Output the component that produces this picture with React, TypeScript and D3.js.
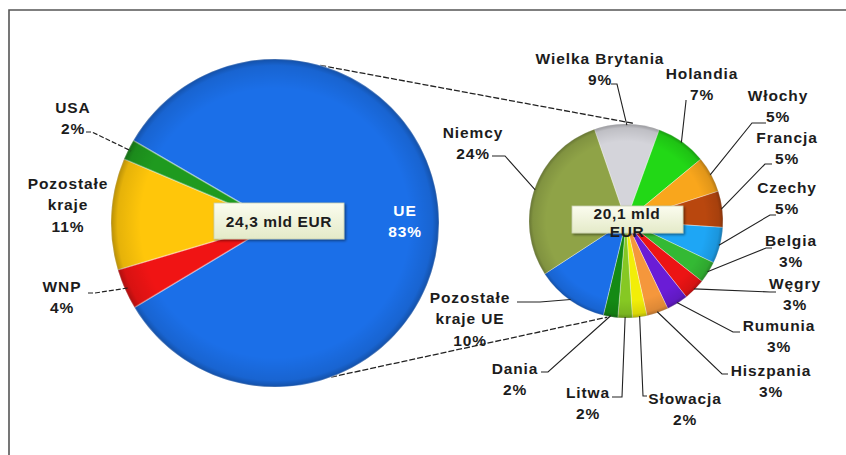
import React from "react";
import * as d3 from "d3";

// ---- data ----
const mainLabels = ["UE", "WNP", "Pozostałe\nkraje", "USA"];
const mainValues = [83, 4, 11, 2];
const mainColors = ["#1b6fe8", "#f01414", "#ffc60a", "#1f9a1f"];
const mainTotal = "24,3 mld EUR";

const subLabels = [
  "Wielka Brytania", "Holandia", "Włochy", "Francja", "Czechy", "Belgia", "Węgry",
  "Rumunia", "Hiszpania", "Słowacja", "Litwa", "Dania", "Pozostałe\nkraje UE", "Niemcy",
];
const subValues = [9, 7, 5, 5, 5, 3, 3, 3, 3, 2, 2, 2, 10, 24];
const subColors = [
  "#d4d4da", "#22d816", "#f9a61c", "#b9470e", "#1ea6f5", "#34b934", "#ec1414",
  "#6a1cd6", "#f5973c", "#f2ee08", "#86c823", "#148a14", "#1b6fe8", "#8fa347",
];
const subTotal = ["20,1 mld", "EUR"];

// ---- layout ----
const W = 846, H = 455;
const MAIN = { cx: 275, cy: 223, r: 164, start: 300.2 };
const SUB = { cx: 626, cy: 221, r: 97, start: -19 };
const FONT = "'Liberation Sans', Arial, sans-serif";
const LH = 21.5;

// label centers (first line) and leader elbows [p0, p1] (null = no leader)
const mainLayout: { x: number; y: number; leader: number[][] | null; fill?: string }[] = [
  { x: 405, y: 210, leader: null, fill: "#ffffff" },
  { x: 62, y: 286, leader: [[88, 293], [95, 293]] },
  { x: 68, y: 183, leader: null },
  { x: 73, y: 107, leader: [[86, 132], [92, 132]] },
];
const subLayout: { x: number; y: number; leader: number[][] }[] = [
  { x: 600, y: 58, leader: [[611, 84], [617, 84]] },
  { x: 702, y: 73, leader: [[686, 100], [686, 101]] },
  { x: 778, y: 95, leader: [[766, 123], [752, 123]] },
  { x: 787, y: 137, leader: [[772, 164], [765, 164]] },
  { x: 787, y: 187, leader: [[776, 215], [770, 215]] },
  { x: 791, y: 240, leader: [[772, 248], [766, 248]] },
  { x: 795, y: 283, leader: [[776, 292], [770, 292]] },
  { x: 779, y: 325, leader: [[740, 332], [733, 332]] },
  { x: 771, y: 370, leader: [[728, 374], [722, 374]] },
  { x: 685, y: 398, leader: [[647, 396], [643, 396]] },
  { x: 588, y: 392, leader: [[612, 397], [622, 397]] },
  { x: 515, y: 368, leader: [[541, 372], [548, 372]] },
  { x: 470, y: 297, leader: [[517, 302], [540, 302]] },
  { x: 473, y: 132, leader: [[492, 156], [505, 156]] },
];
const CONNECT = { mainTop: 16, mainBot: 160, subTop: 4, subBot: 191 };

const rad = (deg: number) => (deg * Math.PI) / 180;
const polar = (cx: number, cy: number, r: number, deg: number) => [
  cx + r * Math.sin(rad(deg)),
  cy - r * Math.cos(rad(deg)),
];

function Label({ x, y, text, pct, fill }: { x: number; y: number; text: string; pct: number; fill?: string }) {
  const lines = [...text.split("\n"), `${pct}%`];
  return (
    <text
      x={x}
      y={y}
      textAnchor="middle"
      fontFamily={FONT}
      fontSize={15.5}
      fontWeight="bold"
      letterSpacing={0.9}
      fill={fill || "#1c1c1c"}
    >
      {lines.map((l, i) => (
        <tspan key={i} x={x} y={y + i * LH} dominantBaseline="central">
          {l}
        </tspan>
      ))}
    </text>
  );
}

export default function App() {
  const mainPie = d3
    .pie<number>()
    .sort(null)
    .startAngle(rad(MAIN.start))
    .endAngle(rad(MAIN.start + 360))(mainValues);
  const subPie = d3
    .pie<number>()
    .sort(null)
    .startAngle(rad(SUB.start))
    .endAngle(rad(SUB.start + 360))(subValues);
  const mainArc = d3.arc<d3.PieArcDatum<number>>().innerRadius(0).outerRadius(MAIN.r);
  const subArc = d3.arc<d3.PieArcDatum<number>>().innerRadius(0).outerRadius(SUB.r);

  const midDeg = (d: d3.PieArcDatum<number>) => ((d.startAngle + d.endAngle) / 2) * (180 / Math.PI);

  const line = d3.line();

  const ct1 = polar(MAIN.cx, MAIN.cy, MAIN.r, CONNECT.mainTop);
  const ct2 = polar(SUB.cx, SUB.cy, SUB.r + 1, CONNECT.subTop);
  const cb1 = polar(MAIN.cx, MAIN.cy, MAIN.r, CONNECT.mainBot);
  const cb2 = polar(SUB.cx, SUB.cy, SUB.r + 1, CONNECT.subBot);

  return (
    <svg
      width={W}
      height={H}
      viewBox={`0 0 ${W} ${H}`}
      style={{ position: "absolute", left: 0, top: 0, background: "#fff" }}
    >
      <defs>
        <radialGradient id="shade" cx="50%" cy="50%" r="50%">
          <stop offset="0%" stopColor="#000" stopOpacity={0} />
          <stop offset="82%" stopColor="#000" stopOpacity={0} />
          <stop offset="96%" stopColor="#000" stopOpacity={0.1} />
          <stop offset="100%" stopColor="#000" stopOpacity={0.28} />
        </radialGradient>
        <linearGradient id="box" x1="0" y1="0" x2="0" y2="1">
          <stop offset="0%" stopColor="#fbfcef" />
          <stop offset="100%" stopColor="#e4eac8" />
        </linearGradient>
        <filter id="shadow" x="-10%" y="-20%" width="130%" height="160%">
          <feDropShadow dx="1.5" dy="1.5" stdDeviation="1.2" floodColor="#000" floodOpacity="0.45" />
        </filter>
      </defs>

      {/* frame */}
      <path d={`M9,${H} L9,10 L${W},10`} fill="none" stroke="#555" strokeWidth={1.6} />

      {/* connectors */}
      <path d={line([ct1 as [number, number], ct2 as [number, number]]) || ""} stroke="#222" strokeWidth={1.3} strokeDasharray="6,2" fill="none" />
      <path d={line([cb1 as [number, number], cb2 as [number, number]]) || ""} stroke="#222" strokeWidth={1.3} strokeDasharray="6,2" fill="none" />

      {/* main pie */}
      <g transform={`translate(${MAIN.cx},${MAIN.cy})`}>
        {mainPie.map((d, i) => (
          <path key={i} d={mainArc(d) || ""} fill={mainColors[i]} stroke="rgba(255,255,255,0.35)" strokeWidth={1.5} />
        ))}
        <circle r={MAIN.r} fill="url(#shade)" />
      </g>

      {/* sub pie */}
      <g transform={`translate(${SUB.cx},${SUB.cy})`}>
        {subPie.map((d, i) => (
          <path key={i} d={subArc(d) || ""} fill={subColors[i]} stroke="rgba(255,255,255,0.35)" strokeWidth={1} />
        ))}
        <circle r={SUB.r} fill="url(#shade)" />
      </g>

      {/* main leaders */}
      {mainPie.map((d, i) => {
        const lay = mainLayout[i];
        if (!lay.leader) return null;
        const end = polar(MAIN.cx, MAIN.cy, MAIN.r - 3, midDeg(d));
        const pts = [...lay.leader, end] as [number, number][];
        return <path key={i} d={line(pts) || ""} stroke="#222" strokeWidth={1.2} strokeDasharray="5,2" fill="none" />;
      })}

      {/* sub leaders */}
      {subPie.map((d, i) => {
        const lay = subLayout[i];
        const end = polar(SUB.cx, SUB.cy, SUB.r - 1, midDeg(d));
        const pts = [...lay.leader, end] as [number, number][];
        return <path key={i} d={line(pts) || ""} stroke="#222" strokeWidth={1.1} fill="none" />;
      })}

      {/* main labels */}
      {mainValues.map((v, i) => (
        <Label key={i} x={mainLayout[i].x} y={mainLayout[i].y} text={mainLabels[i]} pct={v} fill={mainLayout[i].fill} />
      ))}
      {/* sub labels */}
      {subValues.map((v, i) => (
        <Label key={i} x={subLayout[i].x} y={subLayout[i].y} text={subLabels[i]} pct={v} />
      ))}

      {/* total boxes */}
      <rect x={214} y={203} width={130} height={36} fill="url(#box)" stroke="#c9cfae" strokeWidth={0.8} filter="url(#shadow)" />
      <text x={279} y={221.5} textAnchor="middle" dominantBaseline="central" fontFamily={FONT} fontSize={15.5} fontWeight="bold" letterSpacing={0.6} fill="#1c1c1c">
        {mainTotal}
      </text>
      <rect x={572} y={206} width={111} height={27} fill="url(#box)" stroke="#c9cfae" strokeWidth={0.8} filter="url(#shadow)" />
      {subTotal.map((t, i) => (
        <text key={i} x={627} y={213 + i * 18} textAnchor="middle" dominantBaseline="central" fontFamily={FONT} fontSize={15.5} fontWeight="bold" letterSpacing={0.6} fill="#1c1c1c">
          {t}
        </text>
      ))}
    </svg>
  );
}
